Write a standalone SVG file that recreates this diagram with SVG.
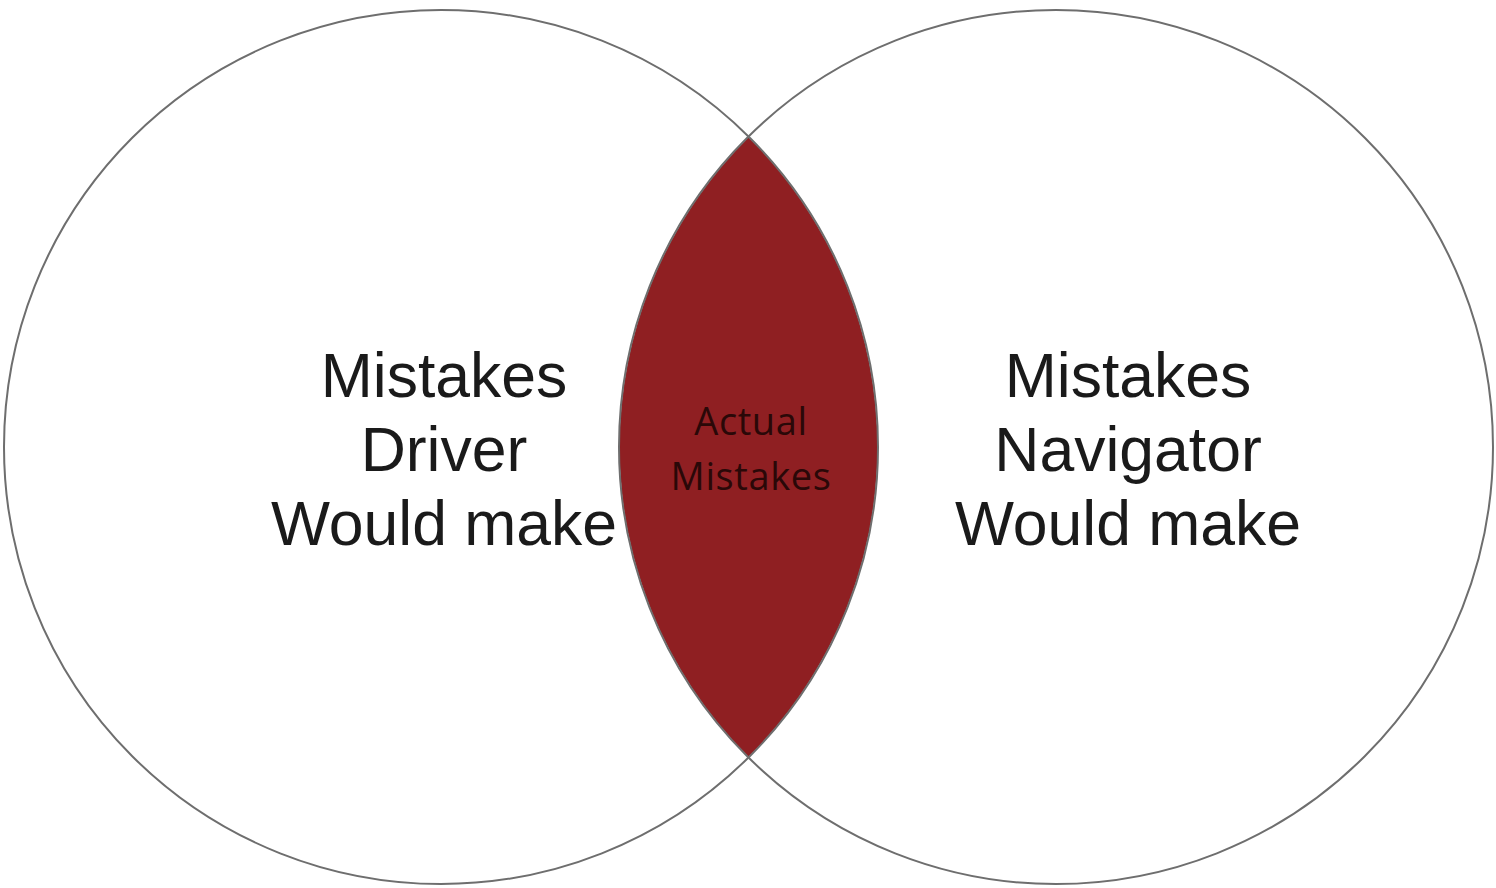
<svg xmlns="http://www.w3.org/2000/svg" width="1496" height="888" viewBox="0 0 1496 888">
<style>
.circ{fill:none;stroke:#6e6e6e;stroke-width:2}
.big{font-family:"Liberation Sans",Arial,sans-serif;font-size:62.5px;fill:#1a1a1a;text-anchor:middle}
.small{font-family:"Open Sans","Noto Sans",sans-serif;font-size:38px;letter-spacing:0.6px;fill:#2a0808;text-anchor:middle}
</style>
<rect width="1496" height="888" fill="#ffffff"/>
<g id="intersection">
<path d="M748.5,137 A437,437 0 0 1 748.5,757 A437,437 0 0 1 748.5,137 Z" fill="#8f1f22"/>
<text class="small" x="751" y="435">Actual</text>
<text class="small" x="751" y="490">Mistakes</text>
</g>
<g id="driver">
<circle class="circ" cx="441" cy="447" r="437"/>
<text class="big" x="444" y="397">Mistakes</text>
<text class="big" x="444" y="471">Driver</text>
<text class="big" x="444" y="545">Would make</text>
</g>
<g id="navigator">
<circle class="circ" cx="1056" cy="447" r="437"/>
<text class="big" x="1128" y="397">Mistakes</text>
<text class="big" x="1128" y="471">Navigator</text>
<text class="big" x="1128" y="545">Would make</text>
</g>
</svg>
